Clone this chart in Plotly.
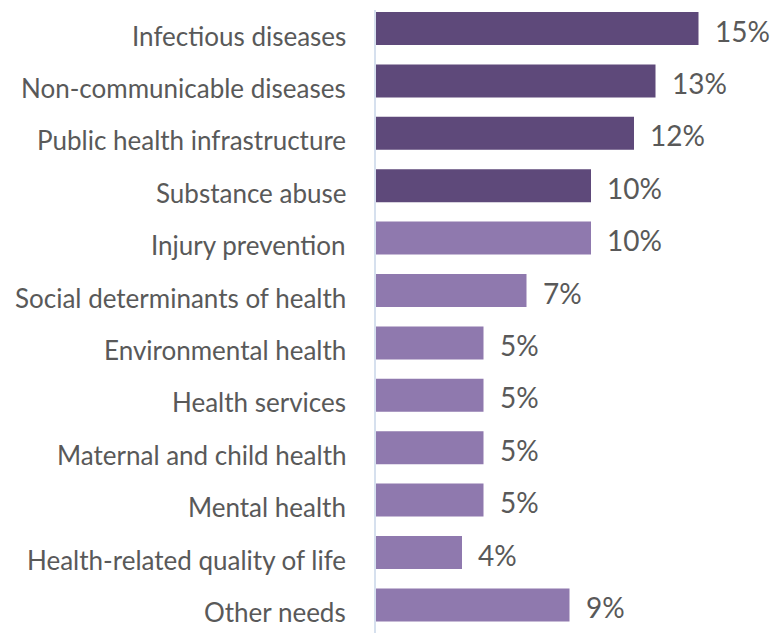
import plotly.graph_objects as go

categories = ["Infectious diseases", "Non-communicable diseases", "Public health infrastructure",
              "Substance abuse", "Injury prevention", "Social determinants of health",
              "Environmental health", "Health services", "Maternal and child health",
              "Mental health", "Health-related quality of life", "Other needs"]
values = [15, 13, 12, 10, 10, 7, 5, 5, 5, 5, 4, 9]
labels = ["15%", "13%", "12%", "10%", "10%", "7%", "5%", "5%", "5%", "5%", "4%", "9%"]
highlight = [True, True, True, True, False, False, False, False, False, False, False, False]

DARK = "#5E497A"
LIGHT = "#8F79AE"
colors = [DARK if h else LIGHT for h in highlight]
TEXT = "#595959"

fig = go.Figure(go.Bar(
    y=categories, x=values, orientation="h",
    marker=dict(color=colors, line=dict(width=0)),
    width=0.63, hoverinfo="skip",
))

for c, v, t in zip(categories, values, labels):
    fig.add_annotation(x=v, y=c, text=t, showarrow=False, xanchor="left",
                       xshift=14, yshift=-2,
                       font=dict(size=28, color=TEXT, family="Lato"))
    fig.add_annotation(x=0, xref="paper", y=c, text=c, showarrow=False,
                       xanchor="right", xshift=-28, yshift=-7,
                       font=dict(size=26, color=TEXT, family="Lato"))

fig.update_layout(
    width=783, height=633,
    margin=dict(l=368, r=28, t=2, b=0),
    plot_bgcolor="white", paper_bgcolor="white",
    showlegend=False,
    font=dict(family="Lato", size=26, color=TEXT),
)
fig.update_xaxes(range=[0, 18], visible=False, showgrid=False, zeroline=False)
fig.update_yaxes(range=[11.689, -0.353], showline=True, linecolor="#D6E0EE", linewidth=2,
                 showgrid=False, ticks="", showticklabels=False, automargin=False)

fig.write_html("out.html")
